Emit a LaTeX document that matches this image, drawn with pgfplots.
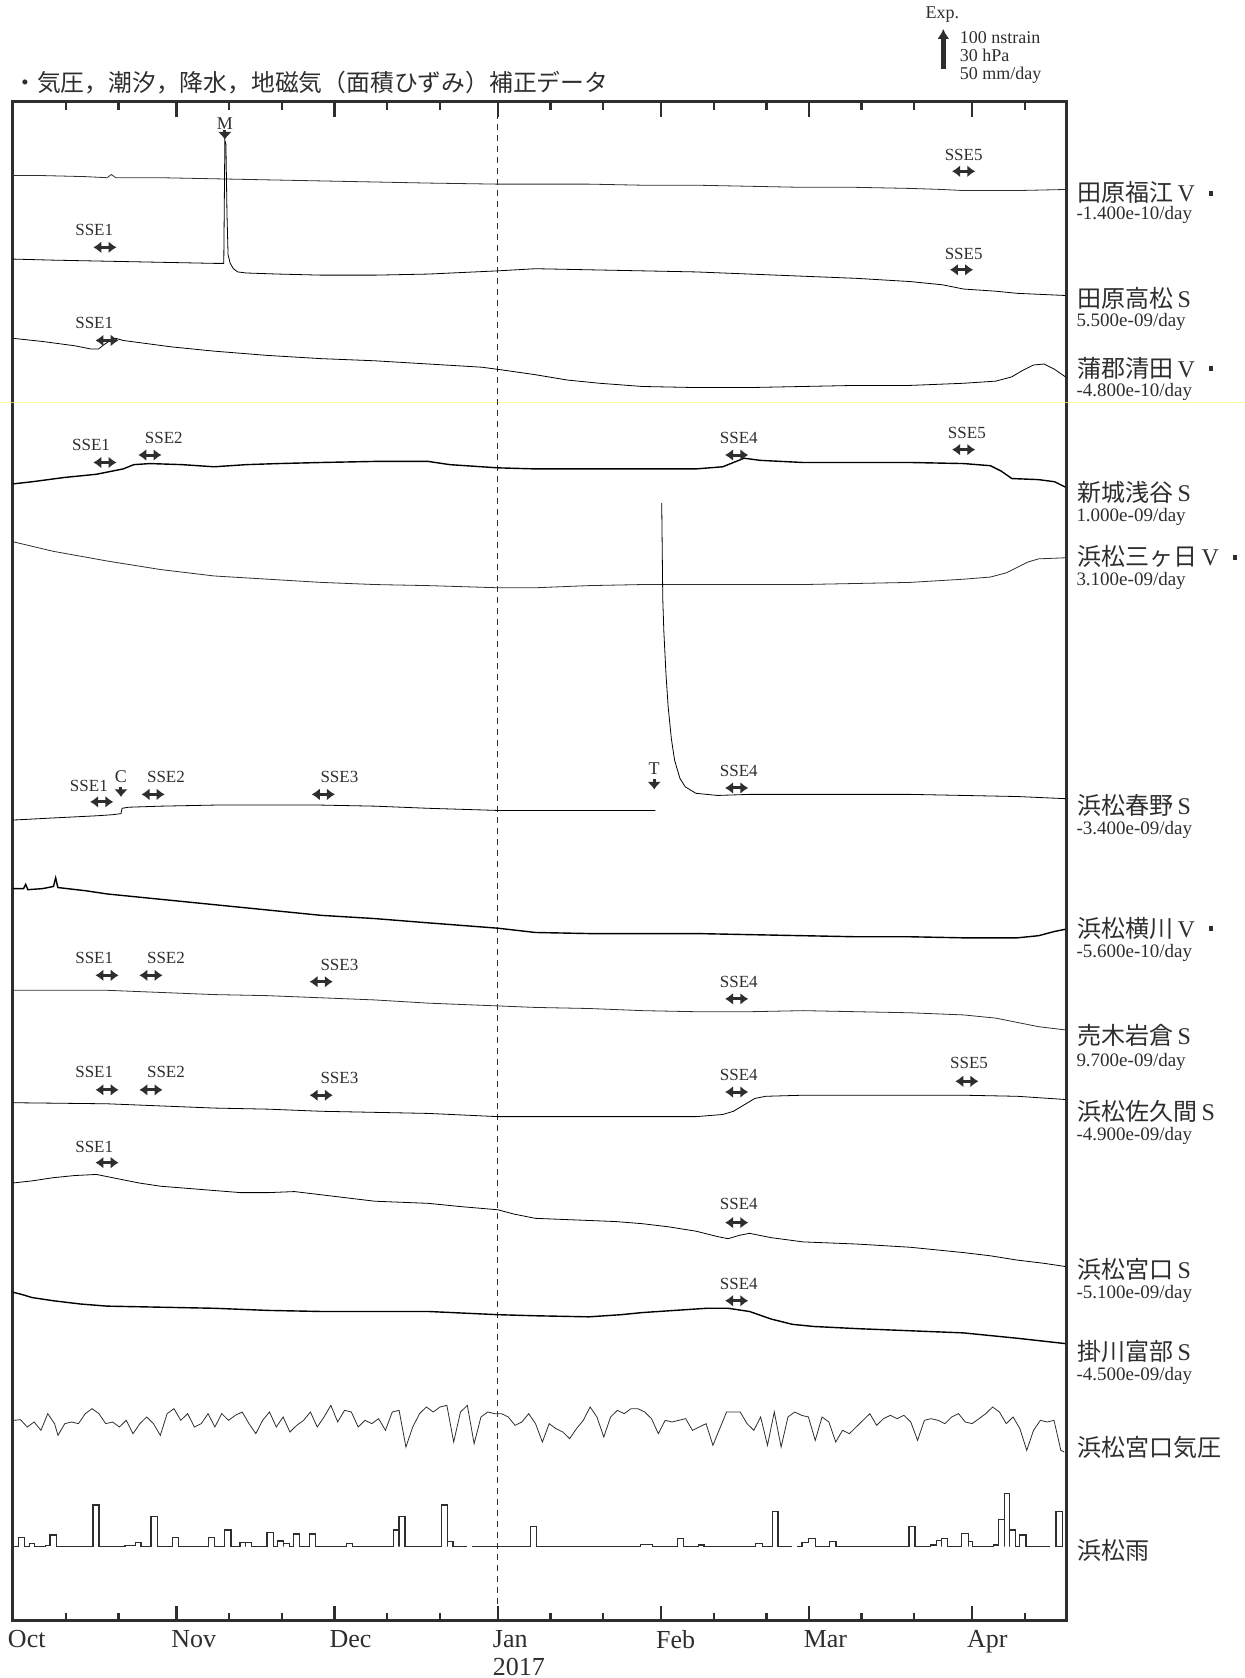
\documentclass[border=0pt]{standalone}
\usepackage{pgfplots}
\pgfplotsset{compat=1.18}
\usetikzlibrary{arrows.meta}
\usepackage{fontspec}
\setmainfont{Liberation Serif}
\newfontfamily\jp{Noto Sans CJK JP}
\definecolor{ink}{HTML}{2E2E2E}

% SSE label: text, xtext, ytext, xarrow, yarrow (reference pixel rows)
\newcommand{\sse}[5]{%
  \node[font=\fontsize{8.5}{8.5}\selectfont, inner sep=0pt, text=ink] at (axis cs:#2,-#3) {#1};
  \draw[ink, line width=1.5pt, {Latex[length=4pt,width=6pt]}-{Latex[length=4pt,width=6pt]}]
    ([xshift=-5.8pt]axis cs:#4,-#5) -- ([xshift=5.8pt]axis cs:#4,-#5);}
% event: text, x, ytext, yarrowtop
\newcommand{\evt}[4]{%
  \node[font=\fontsize{9}{9}\selectfont, inner sep=0pt, text=ink] at (axis cs:#2,-#3) {#1};
  \draw[ink, line width=1.5pt, -{Latex[length=3.8pt,width=7pt]}]
    (axis cs:#2,-#4) -- ([yshift=-5pt]axis cs:#2,-#4);}
% station: yname, name, yrate, rate
\newcommand{\stn}[4]{%
  \node[anchor=west, inner sep=0pt, font=\fontsize{12}{12}\selectfont, text=ink] at (axis cs:1006,-#1) {#2};
  \node[anchor=west, inner sep=0pt, font=\fontsize{9.5}{9.5}\selectfont, text=ink] at (axis cs:1005,-#3) {#4};}
\newcommand{\sq}{\hspace{7pt}\rule[3pt]{2pt}{2.5pt}}

\begin{document}
\begin{tikzpicture}
\useasboundingbox (-6.5pt,-28.5pt) rectangle (615.5pt,810.5pt);
\begin{axis}[
  at={(0,0)}, anchor=south west,
  width=527pt, height=759.5pt, scale only axis,
  xmin=12.14, xmax=996.5, ymin=-1514.1, ymax=-95.27,
  clip=false,
  axis line style={line width=1.5pt, color=ink},
  ytick=\empty,
  xtick={12.14,164.7,312.4,465.0,617.5,755.4,907.9},
  xticklabels={Oct,Nov,Dec,{Jan\\2017},Feb,Mar,Apr},
  minor xtick={61.4,110.6,213.9,263.2,361.6,410.8,514.2,563.4,666.8,716.0,804.6,853.8,957.2},
  tick align=inside, xtick pos=both,
  major tick length=7.5pt, minor tick length=4pt,
  every tick/.style={line width=1.2pt, color=ink},
  xticklabel style={anchor=north west, inner sep=0pt, xshift=-2.7pt, yshift=-4.3pt,
    align=left, font=\fontsize{13}{14}\selectfont, text=ink},
  cycle list={{ink, solid, mark=none, line width=0.7pt}},
]
% scan artefact line
\draw[yellow!55!white, line width=0.9pt, opacity=0.7] (axis cs:0,-376) -- (axis cs:1162,-376);
% Jan 1 dashed line
\draw[ink, line width=0.6pt, dash pattern=on 3pt off 2.5pt] (axis cs:465,-95.27) -- (axis cs:465,-1514.1);

% 田原福江V
\addplot table[row sep=\\, x=x, y expr=-\thisrow{y}] {x y\\ 12 164\\ 40 164\\ 80 165\\ 100 166\\ 104 163\\ 108 166\\ 150 166\\ 200 167\\ 250 168\\ 300 169\\ 350 170\\ 400 171\\ 465 172\\ 500 172\\ 550 172\\ 600 173\\ 650 173\\ 700 174\\ 750 175\\ 800 175\\ 850 176\\ 880 177\\ 900 178\\ 950 178\\ 995 177\\};
% 田原高松S
\addplot table[row sep=\\, x=x, y expr=-\thisrow{y}] {x y\\ 12 242\\ 50 243\\ 100 244\\ 150 245\\ 200 246\\ 209 246\\ 210 131\\ 211 135\\ 212 200\\ 213 238\\ 215 246\\ 218 251\\ 222 254\\ 230 255\\ 260 256\\ 300 257\\ 350 257\\ 400 256\\ 465 253\\ 500 251\\ 550 252\\ 600 253\\ 650 254\\ 700 256\\ 750 258\\ 800 260\\ 850 263\\ 880 266\\ 900 270\\ 930 272\\ 950 274\\ 995 276\\};
% 蒲郡清田V
\addplot table[row sep=\\, x=x, y expr=-\thisrow{y}] {x y\\ 12 316\\ 40 319\\ 70 323\\ 85 326\\ 92 326\\ 97 322\\ 103 318\\ 108 316\\ 115 318\\ 130 320\\ 160 324\\ 200 328\\ 250 332\\ 300 335\\ 350 337\\ 400 340\\ 450 343\\ 465 345\\ 500 350\\ 530 355\\ 560 358\\ 600 361\\ 650 362\\ 700 362\\ 750 361\\ 800 360\\ 850 360\\ 900 358\\ 930 356\\ 945 352\\ 955 346\\ 965 341\\ 975 340\\ 985 345\\ 995 352\\};
% 新城浅谷S
\addplot table[row sep=\\, x=x, y expr=-\thisrow{y}] {x y\\ 12 452\\ 30 450\\ 60 446\\ 90 443\\ 100 441\\ 115 438\\ 125 434\\ 140 433\\ 170 434\\ 200 436\\ 230 434\\ 260 433\\ 300 432\\ 350 431\\ 400 431\\ 420 434\\ 450 436\\ 465 437\\ 500 438\\ 550 438\\ 600 438\\ 650 438\\ 675 436\\ 685 432\\ 695 428\\ 710 430\\ 750 432\\ 800 432\\ 850 432\\ 900 433\\ 925 435\\ 935 440\\ 945 447\\ 970 448\\ 985 450\\ 995 455\\};
% 浜松三ヶ日V
\addplot table[row sep=\\, x=x, y expr=-\thisrow{y}] {x y\\ 12 506\\ 50 515\\ 100 524\\ 150 532\\ 200 538\\ 250 541\\ 300 544\\ 350 546\\ 400 547\\ 465 549\\ 500 549\\ 550 547\\ 600 546\\ 650 546\\ 700 546\\ 750 546\\ 800 545\\ 850 544\\ 900 541\\ 925 539\\ 940 535\\ 950 530\\ 960 525\\ 970 522\\ 995 521\\};
% 浜松春野S
\addplot table[row sep=\\, x=x, y expr=-\thisrow{y}] {x y\\ 12 766\\ 50 764\\ 90 762\\ 105 761\\ 113 760\\ 114 755\\ 120 754\\ 150 753\\ 200 752\\ 250 752\\ 300 752\\ 350 753\\ 400 755\\ 465 757\\ 500 757\\ 550 757\\ 580 757\\ 612 757\\};
\addplot table[row sep=\\, x=x, y expr=-\thisrow{y}] {x y\\ 618 470\\ 619 560\\ 620 590\\ 622 630\\ 624 660\\ 627 690\\ 630 710\\ 635 727\\ 640 735\\ 650 741\\ 670 743\\ 700 742\\ 750 742\\ 800 742\\ 850 742\\ 900 743\\ 950 744\\ 995 746\\};
% 浜松横川V
\addplot table[row sep=\\, x=x, y expr=-\thisrow{y}] {x y\\ 12 830\\ 22 830\\ 24 826\\ 26 831\\ 40 830\\ 50 828\\ 52 820\\ 54 829\\ 80 832\\ 100 835\\ 150 840\\ 200 845\\ 250 850\\ 300 855\\ 350 858\\ 400 862\\ 465 867\\ 500 871\\ 550 872\\ 600 872\\ 650 872\\ 700 873\\ 750 874\\ 800 875\\ 850 875\\ 900 876\\ 950 876\\ 970 874\\ 985 870\\ 995 868\\};
% 売木岩倉S
\addplot table[row sep=\\, x=x, y expr=-\thisrow{y}] {x y\\ 12 925\\ 50 925\\ 100 925\\ 150 927\\ 200 929\\ 250 930\\ 300 932\\ 350 934\\ 400 937\\ 450 939\\ 500 941\\ 550 942\\ 600 944\\ 650 945\\ 700 945\\ 750 944\\ 800 945\\ 850 946\\ 900 948\\ 930 951\\ 950 955\\ 970 959\\ 995 962\\};
% 浜松佐久間S
\addplot table[row sep=\\, x=x, y expr=-\thisrow{y}] {x y\\ 12 1030\\ 100 1031\\ 150 1033\\ 200 1035\\ 250 1036\\ 300 1038\\ 350 1039\\ 400 1040\\ 465 1043\\ 500 1043\\ 550 1043\\ 600 1043\\ 650 1043\\ 675 1041\\ 685 1038\\ 695 1032\\ 705 1026\\ 715 1024\\ 750 1023\\ 800 1023\\ 850 1023\\ 900 1023\\ 950 1024\\ 980 1026\\ 995 1027\\};
% 浜松宮口S
\addplot table[row sep=\\, x=x, y expr=-\thisrow{y}] {x y\\ 12 1105\\ 30 1103\\ 50 1100\\ 70 1098\\ 90 1097\\ 110 1101\\ 130 1105\\ 150 1108\\ 175 1110\\ 200 1112\\ 225 1114\\ 250 1114\\ 275 1113\\ 300 1116\\ 325 1119\\ 350 1122\\ 375 1123\\ 400 1124\\ 430 1127\\ 465 1130\\ 480 1134\\ 500 1138\\ 525 1139\\ 550 1140\\ 575 1141\\ 600 1143\\ 625 1146\\ 650 1150\\ 670 1155\\ 680 1157\\ 690 1154\\ 700 1152\\ 720 1156\\ 750 1160\\ 775 1161\\ 800 1162\\ 850 1165\\ 900 1170\\ 925 1173\\ 950 1177\\ 975 1180\\ 995 1183\\};
% 掛川富部S
\addplot table[row sep=\\, x=x, y expr=-\thisrow{y}] {x y\\ 12 1207\\ 20 1209\\ 30 1212\\ 50 1215\\ 75 1218\\ 100 1220\\ 150 1221\\ 200 1222\\ 250 1224\\ 300 1225\\ 350 1225\\ 400 1225\\ 465 1228\\ 500 1229\\ 550 1230\\ 580 1228\\ 600 1226\\ 630 1224\\ 660 1222\\ 680 1222\\ 700 1225\\ 720 1232\\ 740 1237\\ 760 1239\\ 800 1241\\ 850 1243\\ 900 1245\\ 950 1250\\ 995 1255\\};
% 浜松宮口気圧 (read from zoomed crop coordinates)
\addplot table[row sep=\\, x expr=\thisrow{xz}/1.5695, y expr=-(1289.3+0.3114*\thisrow{yz})] {xz yz\\
20 120\\ 30 118\\ 40 140\\ 50 125\\ 60 150\\ 70 100\\ 80 130\\ 85 165\\ 95 130\\ 105 125\\ 115 130\\ 125 100\\ 135 85\\ 145 100\\ 155 130\\ 165 125\\ 175 140\\ 185 120\\ 195 160\\ 205 130\\ 215 110\\ 225 130\\ 235 165\\ 245 100\\ 255 85\\ 265 120\\ 275 100\\ 285 140\\ 295 130\\ 305 100\\ 315 140\\ 325 100\\ 335 120\\ 345 105\\ 355 95\\ 365 130\\ 375 160\\ 385 120\\ 395 95\\ 405 140\\ 415 110\\ 425 155\\ 435 135\\ 445 120\\ 455 95\\ 465 140\\ 475 110\\ 485 75\\ 495 125\\ 505 90\\ 515 95\\ 525 140\\ 535 120\\ 545 130\\ 555 115\\ 565 150\\ 575 95\\ 585 90\\ 595 200\\ 605 140\\ 615 100\\ 625 80\\ 635 95\\ 645 80\\ 655 75\\ 665 185\\ 675 95\\ 685 75\\ 695 190\\ 705 110\\ 715 95\\ 725 100\\ 735 100\\ 745 110\\ 755 135\\ 765 125\\ 775 100\\ 785 130\\ 795 185\\ 805 130\\ 815 145\\ 825 155\\ 835 175\\ 845 145\\ 855 120\\ 865 80\\ 875 110\\ 885 170\\ 895 110\\ 905 90\\ 915 100\\ 925 85\\ 935 85\\ 945 95\\ 955 115\\ 965 160\\ 975 120\\ 985 125\\ 995 120\\ 1005 115\\ 1015 150\\ 1025 140\\ 1035 130\\ 1045 195\\ 1055 145\\ 1065 95\\ 1075 95\\ 1085 95\\ 1095 130\\ 1105 150\\ 1115 110\\ 1125 195\\ 1135 95\\ 1145 200\\ 1155 110\\ 1165 95\\ 1175 105\\ 1185 110\\ 1195 180\\ 1205 110\\ 1215 125\\ 1225 185\\ 1235 150\\ 1245 160\\ 1255 140\\ 1265 120\\ 1275 100\\ 1285 135\\ 1295 115\\ 1305 105\\ 1315 115\\ 1325 105\\ 1335 125\\ 1345 180\\ 1355 120\\ 1365 115\\ 1375 120\\ 1385 130\\ 1395 110\\ 1405 100\\ 1415 125\\ 1425 130\\ 1435 115\\ 1445 100\\ 1455 80\\ 1465 95\\ 1475 130\\ 1485 110\\ 1495 145\\ 1505 210\\ 1515 150\\ 1525 120\\ 1535 125\\ 1545 120\\ 1555 210\\ 1560 215\\};
% 浜松雨 (daily bars on baseline 1444.7)
\addplot[ink, line width=0.6pt] table[row sep=\\, x=x, y expr=-\thisrow{y}] {x y\\
13 1444.7\\ 17.4 1444.7\\ 17.4 1436.0\\ 22.7 1436.0\\ 22.7 1444.7\\ 27.5 1444.7\\ 27.5 1441.6\\ 32.5 1441.6\\ 32.5 1444.7\\ 42.6 1444.7\\ 42.6 1443.5\\ 46.7 1443.5\\ 46.7 1433.8\\ 52.4 1433.8\\ 52.4 1444.7\\ 86.8 1444.7\\ 86.8 1405.8\\ 92.5 1405.8\\ 92.5 1444.7\\ 116.8 1444.7\\ 116.8 1443.5\\ 126.3 1443.5\\ 126.3 1440.9\\ 131.7 1440.9\\ 131.7 1444.7\\ 141.1 1444.7\\ 141.1 1416.6\\ 146.8 1416.6\\ 146.8 1444.7\\ 161.0 1444.7\\ 161.0 1436.3\\ 166.7 1436.3\\ 166.7 1444.7\\ 194.8 1444.7\\ 194.8 1436.3\\ 200.5 1436.3\\ 200.5 1444.7\\ 210.0 1444.7\\ 210.0 1429.1\\ 215.7 1429.1\\ 215.7 1444.7\\ 224.2 1444.7\\ 224.2 1440.9\\ 229.6 1440.9\\ 229.6 1444.7\\ 229.6 1440.9\\ 235.2 1440.9\\ 235.2 1444.7\\ 249.4 1444.7\\ 249.4 1431.3\\ 255.1 1431.3\\ 255.1 1444.7\\ 258.9 1444.7\\ 258.9 1439.4\\ 264.6 1439.4\\ 264.6 1444.7\\ 264.6 1441.6\\ 270.0 1441.6\\ 270.0 1444.7\\ 273.8 1444.7\\ 273.8 1432.8\\ 279.4 1432.8\\ 279.4 1444.7\\ 288.9 1444.7\\ 288.9 1432.8\\ 294.6 1432.8\\ 294.6 1444.7\\ 323.6 1444.7\\ 323.6 1441.6\\ 329.0 1441.6\\ 329.0 1444.7\\ 367.2 1444.7\\ 367.2 1429.1\\ 372.6 1429.1\\ 372.6 1444.7\\ 372.6 1416.6\\ 378.3 1416.6\\ 378.3 1444.7\\ 412.1 1444.7\\ 412.1 1405.8\\ 417.7 1405.8\\ 417.7 1444.7\\ 417.7 1440.0\\ 423.1 1440.0\\ 423.1 1444.7\\ 435.7 1444.7\\};
\addplot[ink, line width=0.6pt] table[row sep=\\, x=x, y expr=-\thisrow{y}] {x y\\
440.5 1444.7\\ 495.1 1444.7\\ 495.1 1426.0\\ 500.8 1426.0\\ 500.8 1444.7\\ 598 1444.7\\ 598 1442.5\\ 609.2 1442.5\\ 609.2 1444.7\\ 632.7 1444.7\\ 632.7 1436.9\\ 638.2 1436.9\\ 638.2 1444.7\\ 652.7 1444.7\\ 652.7 1443.2\\ 657.5 1443.2\\ 657.5 1444.7\\ 705.7 1444.7\\ 705.7 1441.6\\ 712.2 1441.6\\ 712.2 1444.7\\ 721.2 1444.7\\ 721.2 1412.0\\ 726.6 1412.0\\ 726.6 1444.7\\ 739.5 1444.7\\};
\addplot[ink, line width=0.6pt] table[row sep=\\, x=x, y expr=-\thisrow{y}] {x y\\
744.3 1444.7\\ 749.1 1444.7\\ 749.1 1440.6\\ 754.9 1440.6\\ 754.9 1436.9\\ 761.4 1436.9\\ 761.4 1444.7\\ 774.9 1444.7\\ 774.9 1440.0\\ 780.7 1440.0\\ 780.7 1444.7\\ 848.9 1444.7\\ 848.9 1426.0\\ 854.6 1426.0\\ 854.6 1444.7\\ 869.1 1444.7\\ 869.1 1443.1\\ 874.6 1443.1\\ 874.6 1439.1\\ 879.4 1439.1\\ 879.4 1444.7\\ 879.4 1436.9\\ 885.2 1436.9\\ 885.2 1444.7\\ 898.1 1444.7\\ 898.1 1432.2\\ 904.2 1432.2\\ 904.2 1444.7\\ 904.2 1440.0\\ 908.4 1440.0\\ 908.4 1444.7\\ 927.7 1444.7\\ 927.7 1443.1\\ 932.5 1443.1\\ 932.5 1419.1\\ 938.0 1419.1\\ 938.0 1444.7\\ 938.0 1394.9\\ 943.1 1394.9\\ 943.1 1444.7\\ 943.1 1429.1\\ 948.6 1429.1\\ 948.6 1444.7\\ 951.8 1444.7\\ 951.8 1433.8\\ 958.2 1433.8\\ 958.2 1444.7\\ 980.7 1444.7\\};
\addplot[ink, line width=0.6pt] table[row sep=\\, x=x, y expr=-\thisrow{y}] {x y\\
986.2 1444.7\\ 986.2 1412.0\\ 992.0 1412.0\\ 992.0 1444.7\\ 986.2 1444.7\\};

% annotations
\sse{SSE5}{900}{145}{900}{160}
\sse{SSE1}{88}{215}{98}{231}
\sse{SSE5}{900}{237}{898}{252}
\sse{SSE1}{88}{302}{100}{318}
\sse{SSE1}{85}{416}{98}{432}
\sse{SSE2}{153}{409}{140}{425}
\sse{SSE4}{690}{409}{688}{425}
\sse{SSE5}{903}{404}{900}{420}
\sse{SSE1}{83}{734}{95}{749}
\sse{SSE2}{155}{726}{143}{742}
\sse{SSE3}{317}{726}{302}{742}
\sse{SSE4}{690}{720}{688}{736}
\sse{SSE1}{88}{895}{100}{911}
\sse{SSE2}{155}{895}{141}{911}
\sse{SSE3}{317}{901}{300}{917}
\sse{SSE4}{690}{917}{688}{933}
\sse{SSE1}{88}{1001}{100}{1018}
\sse{SSE2}{155}{1001}{141}{1018}
\sse{SSE3}{317}{1007}{300}{1023}
\sse{SSE4}{690}{1004}{688}{1020}
\sse{SSE5}{905}{993}{903}{1010}
\sse{SSE1}{88}{1071}{100}{1086}
\sse{SSE4}{690}{1125}{688}{1142}
\sse{SSE4}{690}{1199}{688}{1215}
\evt{M}{210}{115}{121}
\evt{C}{113}{725}{735}
\evt{T}{611}{718}{728}

% station labels
\stn{180}{{\jp 田原福江}\,V\sq}{201}{-1.400e-10/day}
\stn{279}{{\jp 田原高松}\,S}{301}{5.500e-09/day}
\stn{344}{{\jp 蒲郡清田}\,V\sq}{366}{-4.800e-10/day}
\stn{460}{{\jp 新城浅谷}\,S}{483}{1.000e-09/day}
\stn{520}{{\jp 浜松三ヶ日}\,V\sq}{543}{3.100e-09/day}
\stn{752}{{\jp 浜松春野}\,S}{775}{-3.400e-09/day}
\stn{867}{{\jp 浜松横川}\,V\sq}{890}{-5.600e-10/day}
\stn{967}{{\jp 売木岩倉}\,S}{992}{9.700e-09/day}
\stn{1038}{{\jp 浜松佐久間}\,S}{1061}{-4.900e-09/day}
\stn{1186}{{\jp 浜松宮口}\,S}{1209}{-5.100e-09/day}
\stn{1262}{{\jp 掛川富部}\,S}{1285}{-4.500e-09/day}
\node[anchor=west, inner sep=0pt, font=\fontsize{12}{12}\selectfont\jp, text=ink] at (axis cs:1006,-1352) {浜松宮口気圧};
\node[anchor=west, inner sep=0pt, font=\fontsize{12}{12}\selectfont\jp, text=ink] at (axis cs:1006,-1448) {浜松雨};

% title
\node[anchor=west, inner sep=0pt, font=\fontsize{11.9}{11.9}\selectfont\jp, text=ink] at (axis cs:12,-77) {・気圧，潮汐，降水，地磁気（面積ひずみ）補正データ};

% scale bar
\draw[ink, line width=2.2pt, -{Latex[length=5pt,width=6pt]}] (axis cs:881,-64) -- (axis cs:881,-27);
\node[font=\fontsize{9}{9}\selectfont, inner sep=0pt, text=ink] at (axis cs:880,-14) {Exp.};
\node[anchor=west, font=\fontsize{9}{9}\selectfont, inner sep=0pt, text=ink] at (axis cs:896,-35) {100 nstrain};
\node[anchor=west, font=\fontsize{9}{9}\selectfont, inner sep=0pt, text=ink] at (axis cs:896,-52) {30 hPa};
\node[anchor=west, font=\fontsize{9}{9}\selectfont, inner sep=0pt, text=ink] at (axis cs:896,-70) {50 mm/day};
\end{axis}
\end{tikzpicture}
\end{document}
